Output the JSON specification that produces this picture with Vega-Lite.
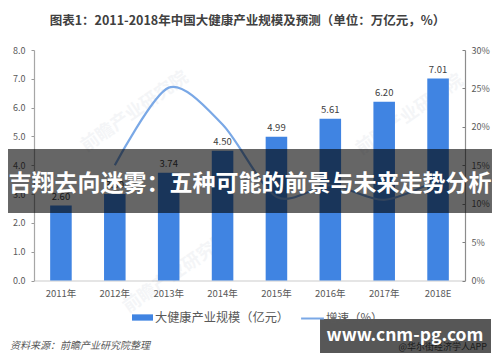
{
"$schema":"https://vega.github.io/schema/vega-lite/v6.json",
"width":431,"height":230.5,
"autosize":"none",
"padding":{"left":34,"top":50,"right":35,"bottom":81.5},
"background":"white",
"config":{"view":{"stroke":null},"font":"Noto Sans CJK SC"},
"title":{"text":"图表1：2011-2018年中国大健康产业规模及预测（单位：万亿元，%）","fontSize":12.5,"fontWeight":"bold","color":"#404040","anchor":"middle","offset":18.5,"dx":-2,"font":"Noto Sans CJK SC"},
"datasets":{
"bars":[
{"year":"2011年","size":2.6,"label":"2.60","series":"大健康产业规模（亿元）"},
{"year":"2012年","size":3.0,"label":"3.00","series":"大健康产业规模（亿元）"},
{"year":"2013年","size":3.74,"label":"3.74","series":"大健康产业规模（亿元）"},
{"year":"2014年","size":4.5,"label":"4.50","series":"大健康产业规模（亿元）"},
{"year":"2015年","size":4.99,"label":"4.99","series":"大健康产业规模（亿元）"},
{"year":"2016年","size":5.61,"label":"5.61","series":"大健康产业规模（亿元）"},
{"year":"2017年","size":6.2,"label":"6.20","series":"大健康产业规模（亿元）"},
{"year":"2018E","size":7.01,"label":"7.01","series":"大健康产业规模（亿元）"}],
"growth":[
{"year":"2012年","rate":15,"series":"增速（%）"},
{"year":"2013年","rate":25.1,"series":"增速（%）"},
{"year":"2014年","rate":20.3,"series":"增速（%）"},
{"year":"2015年","rate":10.9,"series":"增速（%）"},
{"year":"2016年","rate":12.4,"series":"增速（%）"},
{"year":"2017年","rate":10.5,"series":"增速（%）"},
{"year":"2018E","rate":13.1,"series":"增速（%）"}],
"marks":[
{"text":"前瞻产业研究院","fx":0.2343,"fy":5.848},
{"text":"前瞻产业研究院","fx":0.8724,"fy":5.744},
{"text":"前瞻产业研究院","fx":0.3318,"fy":0.26}]
},
"layer":[
{"data":{"name":"marks"},
 "mark":{"type":"text","angle":325,"fontSize":18,"fontWeight":"bold","color":"#8a9ab0","opacity":0.09},
 "encoding":{
  "x":{"field":"fx","type":"quantitative","scale":{"domain":[0,1],"nice":false,"zero":false},"axis":null},
  "y":{"field":"fy","type":"quantitative","scale":{"domain":[0,8],"nice":false},"axis":null},
  "text":{"field":"text"}}},
{"data":{"name":"bars"},
 "mark":{"type":"bar"},
 "encoding":{
  "x":{"field":"year","type":"nominal","sort":null,"scale":{"paddingInner":0.6,"paddingOuter":0.3},
   "axis":{"title":null,"labelAngle":0,"labelFontSize":9.5,"labelColor":"#595959","ticks":false,"domainColor":"#dddddd","domainWidth":1.5,"labelPadding":8,"grid":false}},
  "y":{"field":"size","type":"quantitative","scale":{"domain":[0,8],"nice":false},
   "axis":{"title":null,"orient":"left","values":[0,1,2,3,4,5,6,7,8],"format":".1f","labelFontSize":9,"labelColor":"#595959","tickColor":"#999999","tickSize":3,"domainColor":"#a6a6a6","domainWidth":1.2,"grid":false,"labelPadding":6}},
  "color":{"field":"series","type":"nominal","scale":{"range":["#4084e2"]},
   "legend":{"title":null,"orient":"none","legendX":97,"legendY":256,"labelFontSize":12.2,"labelColor":"#595959","symbolType":"M-1,-0.3H1V0.3H-1Z","symbolSize":440,"labelOffset":1,"values":["大健康产业规模（亿元）"]}}}},
{"data":{"name":"bars"},
 "mark":{"type":"text","baseline":"bottom","dy":-4,"fontSize":9.5,"color":"#404040"},
 "encoding":{
  "x":{"field":"year","type":"nominal","sort":null,"scale":{"paddingInner":0.6,"paddingOuter":0.3},"axis":null},
  "y":{"field":"size","type":"quantitative","scale":{"domain":[0,8],"nice":false},"axis":null},
  "text":{"field":"label"}}},
{"data":{"name":"growth"},
 "mark":{"type":"line","interpolate":"cardinal","tension":0.15,"strokeWidth":2.2},
 "encoding":{
  "x":{"field":"year","type":"nominal","sort":["2011年","2012年","2013年","2014年","2015年","2016年","2017年","2018E"],"scale":{"domain":["2011年","2012年","2013年","2014年","2015年","2016年","2017年","2018E"],"type":"point","padding":0.5},"axis":null},
  "y":{"field":"rate","type":"quantitative","scale":{"domain":[0,30],"nice":false},
   "axis":{"title":null,"orient":"right","values":[0,5,10,15,20,25,30],"labelExpr":"datum.value+'%'","labelFontSize":9,"labelColor":"#595959","tickColor":"#7f7f7f","tickSize":-3,"domainColor":"#8c8c8c","domainWidth":1.2,"grid":false,"labelPadding":9}},
  "stroke":{"field":"series","type":"nominal","scale":{"range":["#7aa8e6"]},
   "legend":{"title":null,"orient":"none","legendX":266,"legendY":256,"labelFontSize":11.5,"labelColor":"#595959","symbolType":"stroke","symbolStrokeWidth":2,"symbolSize":520,"labelOffset":1,"values":["增速（%）"]}}}},
{"data":{"values":[{"item":"APP","fx":1.051,"fy":-2.308,"text":"@华尔街经济学人APP"}]},
 "mark":{"type":"text","align":"right","fontSize":9,"color":"#555555"},
 "encoding":{
  "x":{"field":"fx","type":"quantitative","scale":{"domain":[0,1],"nice":false,"zero":false},"axis":null},
  "y":{"field":"fy","type":"quantitative","scale":{"domain":[0,8],"nice":false},"axis":null},
  "text":{"field":"text"}}},
{"data":{"values":[{"fx":-0.0557,"fy":-2.273,"text":"资料来源：前瞻产业研究院整理"}]},
 "mark":{"type":"text","align":"left","fontSize":10,"fontStyle":"italic","color":"#595959"},
 "encoding":{
  "x":{"field":"fx","type":"quantitative","scale":{"domain":[0,1],"nice":false,"zero":false},"axis":null},
  "y":{"field":"fy","type":"quantitative","scale":{"domain":[0,8],"nice":false},"axis":null},
  "text":{"field":"text"}}},
{"data":{"values":[
 {"name":"banner","x0":-0.0603,"x1":1.0626,"y0":4.56,"y1":2.34,"op":0.6},
 {"name":"site","x0":0.6636,"x1":1.0603,"y0":-1.336,"y1":-2.516,"op":0.66}]},
 "mark":{"type":"rect","color":"#000000"},
 "encoding":{
  "x":{"field":"x0","type":"quantitative","scale":{"domain":[0,1],"nice":false,"zero":false},"axis":null},
  "x2":{"field":"x1"},
  "y":{"field":"y0","type":"quantitative","scale":{"domain":[0,8],"nice":false},"axis":null},
  "y2":{"field":"y1"},
  "opacity":{"field":"op","type":"quantitative","scale":null,"legend":null}}},
{"data":{"values":[
 {"fx":0.5012,"fy":3.35,"text":"吉翔去向迷雾：五种可能的前景与未来走势分析","fs":23},
 {"fx":0.8608,"fy":-1.926,"text":"www.cnm-pg.com","fs":17.5}]},
 "mark":{"type":"text","fontWeight":"bold","color":"#ffffff","baseline":"middle"},
 "encoding":{
  "x":{"field":"fx","type":"quantitative","scale":{"domain":[0,1],"nice":false,"zero":false},"axis":null},
  "y":{"field":"fy","type":"quantitative","scale":{"domain":[0,8],"nice":false},"axis":null},
  "text":{"field":"text"},
  "size":{"field":"fs","type":"quantitative","scale":null,"legend":null}}}
],
"resolve":{"scale":{"x":"independent","y":"independent","color":"independent"},"axis":{"x":"independent","y":"independent"}}
}
